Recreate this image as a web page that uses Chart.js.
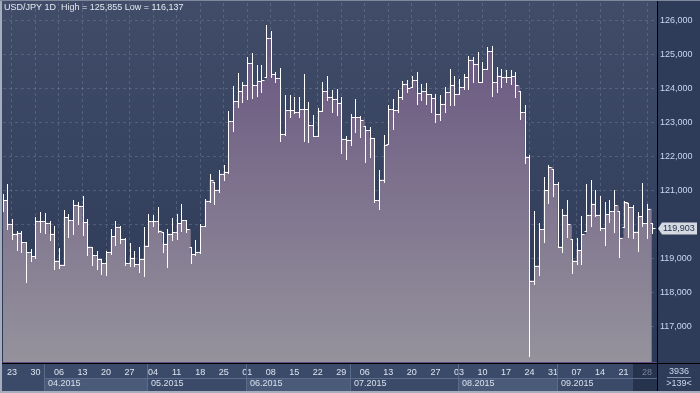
<!DOCTYPE html>
<html>
<head>
<meta charset="utf-8">
<title>USD/JPY 1D</title>
<script src="https://cdn.jsdelivr.net/npm/chart.js@4.4.0/dist/chart.umd.min.js"></script>
<style>
  html, body { margin: 0; padding: 0; background: #3b4a68; overflow: hidden; }
  canvas { display: block; }
</style>
</head>
<body>
<canvas id="chart" width="700" height="393"></canvas>
<script>
// daily bars, 19.03.2015 .. 29.09.2015 (139 bars)
const highs = [
  120.90, 121.20, 120.17, 119.80, 119.82, 119.48, 119.28, 120.22, 120.36, 120.33,
  120.10, 119.97, 119.30, 120.43, 120.31, 120.73, 120.65, 120.85, 120.16, 119.35,
  119.23, 118.99, 119.23, 119.87, 120.09, 119.95, 119.60, 119.45, 119.23, 119.35,
  119.92, 120.31, 120.27, 120.51, 119.77, 119.87, 120.20, 120.31, 120.61, 120.12,
  119.33, 119.55, 120.00, 120.75, 121.49, 121.25, 121.59, 121.75, 123.33, 124.06,
  124.46, 124.19, 124.92, 125.05, 124.68, 124.68, 125.855, 125.70, 124.48, 124.60,
  123.82, 123.82, 123.76, 123.76, 124.43, 123.60, 123.21, 123.43, 124.19, 124.38,
  123.96, 123.99, 123.75, 122.60, 123.26, 123.70, 123.18, 122.90, 122.88, 122.55,
  121.59, 122.62, 123.50, 123.70, 123.96, 124.22, 124.24, 124.38, 124.48, 124.14,
  124.17, 123.84, 123.84, 123.80, 124.04, 124.58, 124.38, 124.29, 124.43, 124.97,
  124.92, 125.07, 124.77, 125.21, 125.26, 124.63, 124.58, 124.53, 124.53, 124.48,
  123.94, 123.50, 122.03, 120.41, 120.04, 121.41, 121.76, 121.64, 121.24, 120.46,
  120.71, 119.58, 119.61, 120.24, 121.20, 121.31, 121.00, 120.85, 120.66, 120.73,
  121.02, 120.41, 120.69, 120.63, 120.56, 120.38, 121.22, 120.59, 120.04
];
const lows = [
  120.40, 119.87, 119.58, 119.24, 119.20, 118.30, 118.94, 119.00, 119.77, 119.74,
  119.53, 118.70, 118.72, 118.80, 119.63, 119.73, 120.00, 119.68, 119.10, 118.80,
  118.70, 118.55, 118.50, 119.13, 119.41, 119.45, 118.80, 118.79, 118.79, 118.60,
  118.47, 119.38, 119.95, 119.77, 119.19, 118.76, 119.53, 119.58, 119.82, 119.77,
  118.86, 119.10, 119.15, 119.95, 120.65, 120.60, 120.95, 121.30, 121.50, 122.75,
  123.47, 123.60, 123.70, 123.73, 123.79, 123.90, 124.33, 124.35, 124.19, 122.47,
  122.62, 123.16, 123.27, 123.16, 122.47, 122.42, 122.60, 122.60, 123.35, 123.67,
  123.30, 123.23, 122.10, 121.93, 122.35, 122.72, 122.57, 121.83, 121.98, 120.66,
  120.46, 121.25, 122.37, 122.81, 123.30, 123.70, 123.89, 124.04, 123.55, 123.65,
  123.55, 123.30, 123.00, 123.06, 123.30, 123.50, 123.50, 123.84, 123.99, 123.99,
  124.19, 124.19, 124.19, 124.58, 123.79, 123.89, 124.04, 124.19, 124.14, 123.74,
  123.10, 121.80, 116.137, 118.25, 118.50, 119.48, 120.63, 120.85, 119.33, 119.19,
  119.63, 118.57, 118.84, 118.84, 119.82, 119.97, 120.26, 119.84, 119.40, 120.07,
  119.77, 119.04, 119.92, 119.63, 119.61, 119.23, 119.97, 119.60, 119.75
];
const opens = [
  120.60, 120.72, 120.02, 119.73, 119.76, 119.48, 119.19, 119.06, 120.10, 120.10,
  120.05, 119.73, 118.94, 118.82, 120.22, 120.12, 120.56, 120.55, 120.07, 119.35,
  119.10, 118.99, 118.86, 119.19, 119.65, 119.93, 119.58, 118.86, 119.02, 118.84,
  118.99, 119.38, 120.09, 120.09, 119.77, 119.43, 119.73, 119.77, 120.04, 120.12,
  119.33, 119.12, 119.20, 119.95, 120.70, 121.25, 121.02, 121.49, 121.55, 123.03,
  123.62, 123.92, 124.09, 124.75, 124.09, 124.21, 124.33, 125.49, 124.43, 124.31,
  122.67, 123.37, 123.37, 123.30, 123.40, 123.40, 122.93, 122.60, 123.35, 123.92,
  123.76, 123.70, 123.58, 122.52, 122.49, 123.16, 123.16, 122.90, 122.78, 122.55,
  120.71, 121.32, 122.37, 123.40, 123.37, 123.75, 124.14, 124.04, 124.25, 123.86,
  123.92, 123.84, 123.72, 123.25, 123.55, 123.89, 124.11, 123.84, 124.04, 124.33,
  124.85, 124.73, 124.19, 124.58, 125.09, 124.19, 124.38, 124.33, 124.33, 124.36,
  123.94, 123.30, 121.98, 118.35, 118.79, 119.87, 121.00, 121.64, 121.18, 119.35,
  120.29, 119.58, 118.94, 119.25, 119.82, 120.29, 120.61, 120.29, 119.90, 120.30,
  120.39, 120.41, 119.92, 120.63, 120.51, 119.79, 120.25, 120.04, 120.04
];
const closes = [
  120.72, 120.02, 119.73, 119.76, 119.48, 119.19, 119.06, 120.10, 120.10, 120.05,
  119.73, 118.94, 118.82, 120.22, 120.12, 120.56, 120.55, 120.07, 119.35, 119.10,
  118.99, 118.86, 119.19, 119.65, 119.93, 119.58, 118.86, 119.02, 118.84, 118.99,
  119.38, 120.09, 120.09, 119.82, 119.43, 119.73, 119.77, 120.04, 120.12, 119.87,
  119.12, 119.20, 119.95, 120.70, 121.30, 121.02, 121.49, 121.55, 123.03, 123.62,
  123.92, 124.09, 124.75, 124.09, 124.21, 124.24, 125.49, 124.43, 124.31, 122.67,
  123.37, 123.37, 123.30, 123.40, 123.40, 122.93, 122.60, 123.35, 123.92, 123.76,
  123.70, 123.58, 122.52, 122.49, 123.16, 123.16, 123.08, 122.78, 122.55, 120.71,
  121.32, 122.33, 123.40, 123.37, 123.75, 124.14, 124.02, 124.25, 123.86, 123.92,
  123.84, 123.72, 123.25, 123.55, 123.89, 124.11, 123.84, 124.04, 124.33, 124.85,
  124.73, 124.19, 124.58, 125.09, 124.19, 124.38, 124.33, 124.33, 124.36, 124.09,
  123.30, 121.98, 118.35, 118.79, 119.87, 121.00, 121.69, 121.18, 119.35, 120.29,
  120.00, 118.94, 119.25, 119.71, 120.29, 120.61, 120.29, 119.90, 120.30, 120.39,
  120.56, 119.61, 120.66, 120.51, 119.79, 120.25, 120.04, 120.46, 119.903
];

// week ticks (bar index of each Monday) and their labels
const dayTickIdx = [2, 7, 12, 17, 22, 27, 32, 37, 42, 47, 52, 57, 62, 67, 72, 77, 82, 87, 92, 97, 102, 107, 112, 117, 122, 127, 132, 137];
const dayTicks = ['23', '30', '06', '13', '20', '27', '04', '11', '18', '25', '01', '08', '15', '22', '29', '06', '13', '20', '27', '03', '10', '17', '24', '31', '07', '14', '21', '28'];
const monthStartIdx = [9, 31, 52, 74, 97, 118];
const months = ['04.2015', '05.2015', '06.2015', '07.2015', '08.2015', '09.2015'];
const yTicks = [117, 118, 119, 120, 121, 122, 123, 124, 125, 126];

const headerText = 'USD/JPY 1D  High = 125,855 Low = 116,137';
const barsTotal = '3936';
const barsVisible = '>139<';

const FONT = '"Liberation Sans", Arial, sans-serif';
const GRID = 'rgba(150, 165, 195, 0.28)';
const last = closes.length - 1;
const fmt = (v) => v.toFixed(3).replace('.', ',');

const backdrop = {
  id: 'backdrop',
  beforeDraw(chart) {
    const { ctx, chartArea: a, width, height } = chart;
    const x = chart.scales.x;
    ctx.save();
    ctx.fillStyle = '#3b4a68';
    ctx.fillRect(0, 0, width, height);

    // plot background
    const g = ctx.createLinearGradient(0, a.top, 0, a.bottom);
    g.addColorStop(0, '#404c68');
    g.addColorStop(1, '#2c3956');
    ctx.fillStyle = g;
    ctx.fillRect(0, 0, a.right, a.bottom);

    // right price panel
    ctx.fillStyle = '#2e3b59';
    ctx.fillRect(a.right, 0, width - a.right, height);

    // month row boxes
    const rowTop = a.bottom + 16;
    months.forEach((m, k) => {
      const x0 = Math.round(x.getPixelForValue(monthStartIdx[k])) - 1;
      const x1 = k + 1 < months.length ? Math.round(x.getPixelForValue(monthStartIdx[k + 1])) - 1 : a.right;
      if (k % 2 === 0) {
        ctx.fillStyle = '#4a5a79';
        ctx.fillRect(x0, rowTop, x1 - x0, height - 2 - rowTop);
      }
    });

    // last (incomplete) week label box
    const lx = Math.round(x.getPixelForValue(dayTickIdx[dayTickIdx.length - 1])) - 14;
    ctx.fillStyle = '#27324d';
    ctx.fillRect(lx, a.bottom + 2, a.right - lx, height - 4 - a.bottom);
    ctx.restore();
  }
};

const overlay = {
  id: 'overlay',
  afterDraw(chart) {
    const { ctx, chartArea: a, width, height } = chart;
    const { x, y } = chart.scales;
    ctx.save();

    // OHLC bars
    ctx.save();
    ctx.beginPath();
    ctx.rect(a.left, a.top, a.right - a.left, a.bottom - a.top);
    ctx.clip();
    ctx.strokeStyle = '#ffffff';
    ctx.lineWidth = 1;
    ctx.beginPath();
    for (let i = 0; i < closes.length; i++) {
      const px = Math.round(x.getPixelForValue(i)) + 0.5;
      const yh = Math.round(y.getPixelForValue(highs[i]));
      const yl = Math.round(y.getPixelForValue(lows[i]));
      const yo = Math.round(y.getPixelForValue(opens[i])) + 0.5;
      const yc = Math.round(y.getPixelForValue(closes[i])) + 0.5;
      ctx.moveTo(px, yh);
      ctx.lineTo(px, yl + 1);
      ctx.moveTo(px - 2, yo);
      ctx.lineTo(px, yo);
      ctx.moveTo(px, yc);
      ctx.lineTo(px + 3, yc);
    }
    ctx.stroke();
    ctx.restore();

    // axis lines
    ctx.fillStyle = '#5e4b80';
    ctx.fillRect(0, a.bottom, a.right, 1);
    ctx.fillStyle = '#000000';
    ctx.fillRect(0, a.bottom + 1, width, 1);
    ctx.fillRect(a.right, 0, 1, height);

    // month separators and labels
    const rowTop = a.bottom + 16;
    ctx.font = '9px ' + FONT;
    ctx.textBaseline = 'middle';
    ctx.textAlign = 'left';
    months.forEach((m, k) => {
      const x0 = Math.round(x.getPixelForValue(monthStartIdx[k])) - 1;
      const x1 = k + 1 < months.length ? Math.round(x.getPixelForValue(monthStartIdx[k + 1])) - 1 : a.right;
      ctx.fillStyle = '#5b6b8b';
      ctx.fillRect(x0, a.bottom + 2, 1, height - 4 - a.bottom);
      ctx.fillRect(x0, rowTop, x1 - x0, 1);
      ctx.fillStyle = '#d8e0ec';
      ctx.fillText(m, x0 + 4, rowTop + 6);
    });

    // last price tag
    const ty = Math.round(y.getPixelForValue(closes[last])) + 0.5;
    ctx.fillStyle = '#d5d9e0';
    ctx.beginPath();
    ctx.moveTo(a.right + 1, ty);
    ctx.lineTo(a.right + 5, ty - 6);
    ctx.lineTo(697, ty - 6);
    ctx.lineTo(697, ty + 6);
    ctx.lineTo(a.right + 5, ty + 6);
    ctx.closePath();
    ctx.fill();
    ctx.fillStyle = '#1d2b49';
    ctx.fillText(fmt(closes[last]), a.right + 6, ty + 0.5);

    // header
    ctx.fillStyle = '#e4e9f2';
    ctx.fillText(headerText, 4, 8);

    // bar counter
    ctx.textAlign = 'center';
    ctx.fillStyle = '#ccd8ec';
    ctx.fillText(barsTotal, 679, 372);
    ctx.fillText(barsVisible, 679, 384);
    ctx.fillStyle = '#8995ab';
    ctx.fillRect(667, 377, 24, 1);

    // frame
    ctx.fillStyle = '#a6aebd';
    ctx.fillRect(0, 0, 2, height);
    ctx.fillRect(0, height - 2, width, 2);
    ctx.fillStyle = '#7f889b';
    ctx.fillRect(0, 0, width, 1);
    ctx.restore();
  }
};

new Chart(document.getElementById('chart'), {
  type: 'line',
  data: {
    datasets: [{
      data: closes.map((c, i) => ({ x: i, y: c })),
      stepped: true,
      fill: 'start',
      borderWidth: 0,
      pointRadius: 0,
      backgroundColor: (context) => {
        const { ctx, chartArea } = context.chart;
        if (!chartArea) return '#7d718d';
        const g = ctx.createLinearGradient(0, chartArea.top, 0, chartArea.bottom);
        g.addColorStop(0, '#65517e');
        g.addColorStop(1, '#95929c');
        return g;
      }
    }]
  },
  options: {
    responsive: false,
    devicePixelRatio: 1,
    animation: false,
    layout: { padding: { left: 3, top: 3, right: 0, bottom: 0 } },
    plugins: {
      legend: { display: false },
      tooltip: { enabled: false }
    },
    scales: {
      x: {
        type: 'linear',
        min: 0.1,
        max: 139.1,
        z: 1,
        afterBuildTicks: (s) => { s.ticks = dayTickIdx.map((v) => ({ value: v })); },
        afterFit: (s) => { s.height = 31; s.paddingLeft = 0; s.paddingRight = 0; },
        grid: { color: GRID, drawTicks: false },
        border: { display: false, dash: [3, 3] },
        ticks: {
          autoSkip: false,
          maxRotation: 0,
          padding: 5,
          font: { family: FONT, size: 9 },
          color: (c) => (c.index === dayTicks.length - 1 ? '#77849c' : '#dde5f1'),
          callback: (v, i) => dayTicks[i]
        }
      },
      y: {
        position: 'right',
        min: 115.955,
        max: 126.515,
        z: 1,
        afterBuildTicks: (s) => { s.ticks = yTicks.map((v) => ({ value: v })); },
        afterFit: (s) => { s.width = 43; s.paddingTop = 0; s.paddingBottom = 0; },
        grid: { color: GRID, drawTicks: false },
        border: { display: false, dash: [3, 3] },
        ticks: {
          padding: 3,
          font: { family: FONT, size: 9 },
          color: '#c9d8f0',
          // the label under the last price tag is hidden
          callback: (v) => (Math.abs(v - closes[last]) < 0.3 ? '' : fmt(v))
        }
      }
    }
  },
  plugins: [backdrop, overlay]
});
</script>
</body>
</html>
